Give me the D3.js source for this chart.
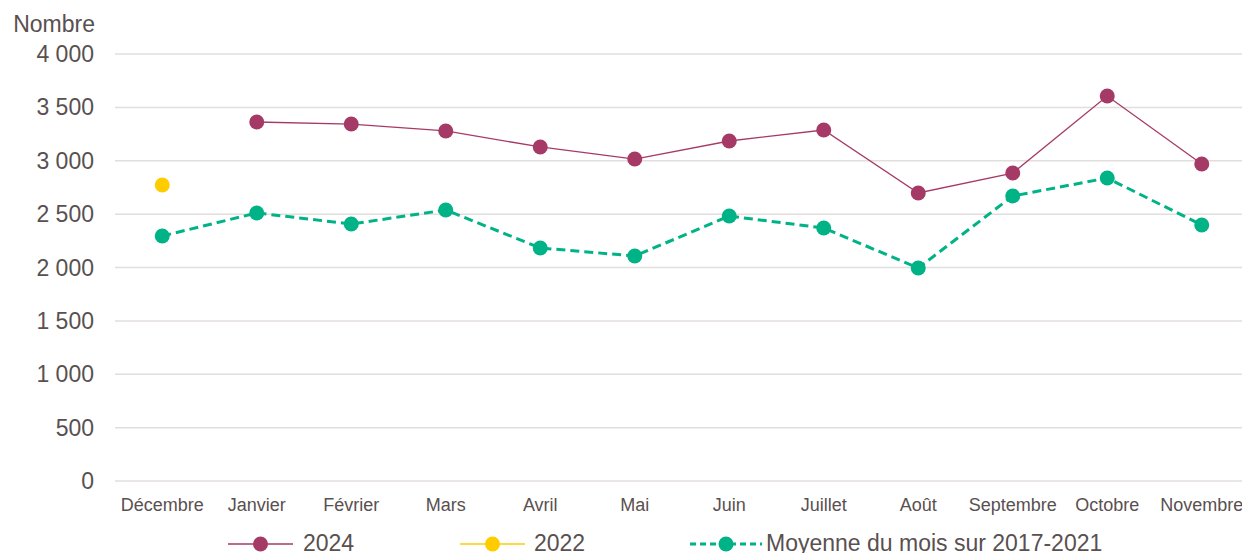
<!DOCTYPE html>
<html><head><meta charset="utf-8">
<script src="https://cdn.jsdelivr.net/npm/d3@7"></script>
<style>body{margin:0;background:#fff;}text{font-family:"Liberation Sans",Arial,sans-serif;fill:#595050;}</style>
</head><body>
<svg id="c" width="1242" height="553"></svg>
<script>
const months = ["Décembre","Janvier","Février","Mars","Avril","Mai","Juin","Juillet","Août","Septembre","Octobre","Novembre"];
const values2024 = [null,3363,3344,3279,3129,3016,3185,3288,2698,2885,3607,2970];
const values2022 = [2773,null,null,null,null,null,null,null,null,null,null,null];
const valuesAvg = [2295,2511,2407,2539,2183,2108,2482,2370,1995,2670,2838,2398];
const yTicks = [0,500,1000,1500,2000,2500,3000,3500,4000];
const yTickLabels = ["0","500","1 000","1 500","2 000","2 500","3 000","3 500","4 000"];

const svg = d3.select("#c");
const x = d3.scaleBand().domain(months).range([115,1249]);
const y = d3.scaleLinear().domain([0,4000]).range([481,54]);
const cx = m => x(m)+x.bandwidth()/2;

// grid
svg.append("g").selectAll("line").data(yTicks).join("line")
  .attr("x1",115).attr("x2",1242).attr("y1",d=>y(d)).attr("y2",d=>y(d))
  .attr("stroke","#e3dede").attr("stroke-width",1.5);

// y labels
svg.append("g").selectAll("text").data(yTicks).join("text")
  .attr("x",94).attr("y",d=>y(d)+8).attr("text-anchor","end")
  .attr("font-size",23).text((d,i)=>yTickLabels[i]);
svg.append("text").attr("x",95).attr("y",32).attr("text-anchor","end").attr("font-size",23).text("Nombre");

// x labels
svg.append("g").selectAll("text").data(months).join("text")
  .attr("x",d=>cx(d)).attr("y",511).attr("text-anchor","middle")
  .attr("font-size",18).text(d=>d);

function series(vals,color,width,dash){
  const pts = months.map((m,i)=>({m,v:vals[i]})).filter(d=>d.v!=null);
  const line = d3.line().x(d=>cx(d.m)).y(d=>y(d.v));
  const g = svg.append("g");
  g.append("path").datum(pts).attr("d",line).attr("fill","none")
    .attr("stroke",color).attr("stroke-width",width).attr("stroke-dasharray",dash||null);
  g.selectAll("circle").data(pts).join("circle")
    .attr("cx",d=>cx(d.m)).attr("cy",d=>y(d.v)).attr("r",7.5).attr("fill",color);
}
series(valuesAvg,"#00b386",3,"9,5");
series(values2024,"#a63a67",1.3);
series(values2022,"#ffcc00",1.3);

// legend
const legend = [
  {label:"2024",color:"#a63a67",x1:228,x2:293,dash:null,w:1.5,tx:303},
  {label:"2022",color:"#ffcc00",x1:460,x2:525,dash:null,w:1.5,tx:534},
  {label:"Moyenne du mois sur 2017-2021",color:"#00b386",x1:690,x2:762,dash:"6,4",w:3,tx:766}
];
const lg = svg.append("g");
legend.forEach(l=>{
  lg.append("line").attr("x1",l.x1).attr("x2",l.x2).attr("y1",544).attr("y2",544)
    .attr("stroke",l.color).attr("stroke-width",l.w).attr("stroke-dasharray",l.dash);
  lg.append("circle").attr("cx",(l.x1+l.x2)/2).attr("cy",544).attr("r",7.5).attr("fill",l.color);
  lg.append("text").attr("x",l.tx).attr("y",551).attr("font-size",23).text(l.label);
});
</script>
</body></html>
